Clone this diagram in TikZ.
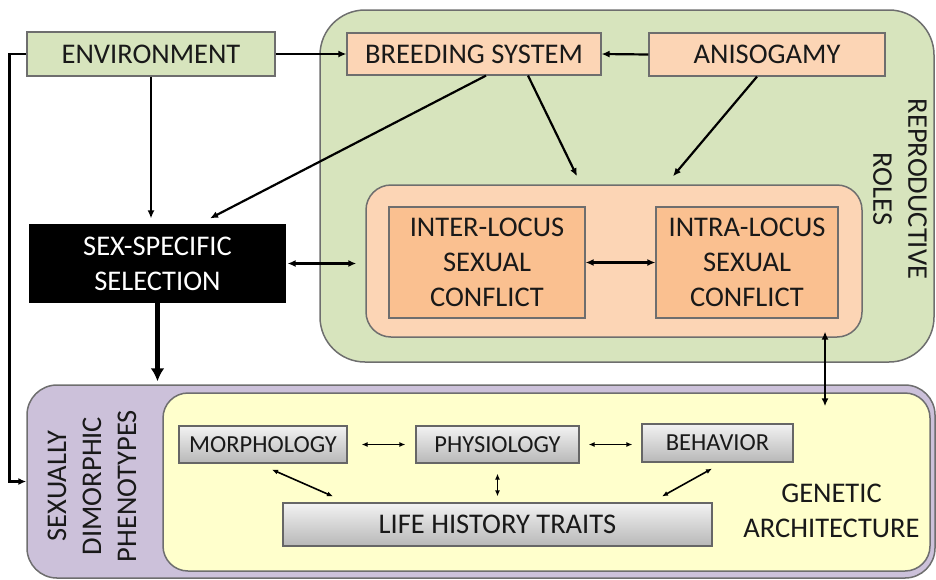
\documentclass[tikz,border=0pt]{standalone}
\usepackage{fontspec}
\setmainfont{Carlito}
\usetikzlibrary{arrows.meta,calc}
\definecolor{envgreen}{HTML}{D7E4BD}
\definecolor{peach}{HTML}{FCD5B5}
\definecolor{orangebox}{HTML}{FAC090}
\definecolor{lilac}{HTML}{CCC1DA}
\definecolor{paleyellow}{HTML}{FFFFCC}
\definecolor{edgegray}{HTML}{6E6E6E}
\tikzset{
  bigfont/.style={font=\fontsize{28.5}{35}\selectfont},
  smallfont/.style={font=\fontsize{24.5}{30}\selectfont},
  boxbase/.style={draw=edgegray, line width=1.2pt, inner sep=0pt, align=center, text=black!90},
  greenbox/.style={boxbase, fill=envgreen, bigfont},
  peachbox/.style={boxbase, fill=peach, bigfont},
  conflictbox/.style={boxbase, fill=orangebox, bigfont},
  blackbox/.style={boxbase, draw=black, fill=black, text=white, bigfont},
  graybox/.style={boxbase, draw=black!60, top color=black!5, bottom color=black!28, smallfont},
  lifebox/.style={boxbase, draw=black!60, top color=black!5, bottom color=black!28, bigfont},
  container/.style={draw=edgegray, line width=1.5pt, inner sep=0pt},
  conn/.style={line width=2.2pt, -{Latex[length=8pt,width=7pt]}},
  dconn/.style={line width=2.2pt, {Latex[length=8pt,width=7pt]}-{Latex[length=8pt,width=7pt]}},
  thickconn/.style={line width=4.5pt, -{Latex[length=13pt,width=14pt]}},
  sconn/.style={line width=1.6pt, {Latex[length=6pt,width=5pt]}-{Latex[length=6pt,width=5pt]}},
  label/.style={bigfont, align=center, text=black!90, inner sep=0pt}
}
\begin{document}
\begin{tikzpicture}[x=1pt,y=-1pt]
\useasboundingbox (0,0) rectangle (936,579);
% containers
\node[container, fill=envgreen, rounded corners=45pt, minimum width=614, minimum height=352] (green) at (627,186) {};
\node[container, fill=lilac, rounded corners=30pt, minimum width=908, minimum height=193] (purple) at (481,481.5) {};
\node[container, fill=paleyellow, rounded corners=25pt, minimum width=767, minimum height=178] (yellow) at (546.5,482) {};
\node[container, fill=peach, rounded corners=25pt, minimum width=496, minimum height=152] (pink) at (614,261) {};
% boxes
\node[greenbox, minimum width=248, minimum height=44] (env) at (151,54) {ENVIRONMENT};
\node[peachbox, minimum width=254, minimum height=42] (breed) at (474,54) {BREEDING SYSTEM};
\node[peachbox, minimum width=236, minimum height=43] (aniso) at (767,54.5) {ANISOGAMY};
\node[blackbox, minimum width=255, minimum height=77] (sex) at (157.5,263.5) {SEX-SPECIFIC\\SELECTION};
\node[conflictbox, minimum width=196, minimum height=111] (inter) at (487,262.5) {INTER-LOCUS\\SEXUAL\\CONFLICT};
\node[conflictbox, minimum width=182, minimum height=111] (intra) at (747,262.5) {INTRA-LOCUS\\SEXUAL\\CONFLICT};
\node[graybox, minimum width=168, minimum height=37] (morph) at (263,444.5) {MORPHOLOGY};
\node[graybox, minimum width=163, minimum height=37] (phys) at (497.5,444.5) {PHYSIOLOGY};
\node[graybox, minimum width=151, minimum height=38] (beh) at (717.5,443) {BEHAVIOR};
\node[lifebox, minimum width=429, minimum height=43] (life) at (497.5,524.5) {LIFE HISTORY TRAITS};
% labels
\node[label, rotate=-90] (roles) at (900,189) {REPRODUCTIVE\\ROLES};
\node[label, rotate=90] (pheno) at (92,486) {SEXUALLY\\DIMORPHIC\\PHENOTYPES};
\node[label] (genarch) at (831.5,511) {GENETIC\\ARCHITECTURE};
% connectors
\draw[conn] (env.east) -- (breed.west);
\draw[conn] (aniso.west) -- (breed.east);
\draw[conn] ([xshift=12pt]breed.south) -- ([xshift=52.5pt,yshift=6pt]sex.north);
\draw[conn] ([xshift=54pt]breed.south) -- ([xshift=-37pt,yshift=8pt]pink.north);
\draw[conn] ([xshift=-10pt]aniso.south) -- ([xshift=59pt,yshift=8pt]pink.north);
\draw[conn] (env.south) -- ([yshift=6pt]env.south |- sex.north);
\draw[conn] (env.west) -- ++(-17pt,0pt) |- (purple.west);
\draw[dconn] ([xshift=2pt]sex.east) -- ([xshift=-9pt]sex.east -| pink.west);
\draw[thickconn] (sex.south) -- ([yshift=3pt]sex.south |- purple.north);
\draw[dconn] (inter.east) -- (intra.west);
\coordinate (vtop) at ([xshift=78pt,yshift=-13pt]intra.south);
\draw[dconn] (vtop) -- ([yshift=-14pt]vtop |- yellow.north);
\draw[sconn] ([xshift=14pt]morph.east) -- ([xshift=-10pt]phys.west);
\draw[sconn] ([xshift=9pt]phys.east) -- ([xshift=-9pt]beh.west |- phys.east);
\draw[sconn] ([xshift=9pt,yshift=-6pt]morph.south) -- ([xshift=-164.5pt,yshift=6pt]life.north);
\draw[sconn] ([yshift=-10pt]phys.south) -- ([yshift=6pt]life.north);
\draw[sconn] ([xshift=-5.5pt,yshift=-6pt]beh.south) -- ([xshift=164.5pt,yshift=6pt]life.north);
\end{tikzpicture}
\end{document}
